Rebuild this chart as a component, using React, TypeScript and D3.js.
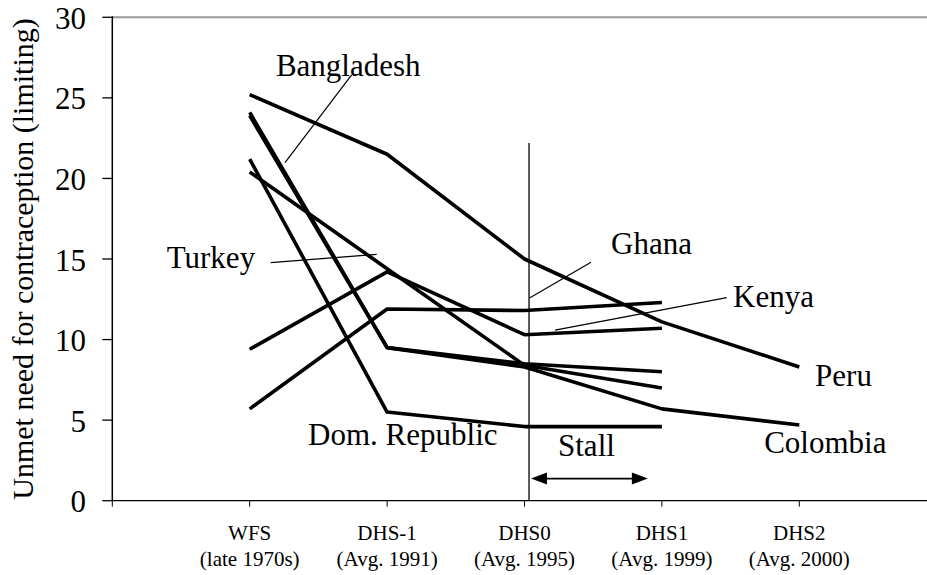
import React from "react";
import * as d3 from "d3";

// ---- Data ----
const categories = ["WFS", "DHS-1", "DHS0", "DHS1", "DHS2"];
const categorySubLabels = ["(late 1970s)", "(Avg. 1991)", "(Avg. 1995)", "(Avg. 1999)", "(Avg. 2000)"];
const yTicks = [0, 5, 10, 15, 20, 25, 30];

const peru = [25.2, 21.5, 15.0, 11.1, 8.3];
const bangladesh = [24.1, 9.5, 8.5, 8.0, null];
const colombia = [23.9, 9.5, 8.3, 5.7, 4.7];
const domRepublic = [21.2, 5.5, 4.6, 4.6, null];
const turkey = [20.4, 14.4, 8.4, 7.0, null];
const kenya = [9.4, 14.2, 10.3, 10.7, null];
const ghana = [5.7, 11.9, 11.8, 12.3, null];

const seriesList: (number | null)[][] = [peru, bangladesh, colombia, domRepublic, turkey, kenya, ghana];

// Annotation labels (position in data units: category index, value)
const labelNames = ["Bangladesh", "Turkey", "Ghana", "Kenya", "Peru", "Colombia", "Dom. Republic", "Stall"];
const labelIdx = [0.191, -0.604, 2.63, 3.518, 4.115, 3.744, 0.425, 2.244];
const labelVal = [26.36, 14.42, 15.31, 12.04, 7.12, 2.98, 3.46, 2.77];

// leader lines: [idx1, val1, idx2, val2]
const leaders = [
  [0.742, 26.42, 0.257, 20.98],
  [0.153, 14.77, 0.924, 15.29],
  [2.484, 14.8, 2.04, 12.6],
  [3.472, 12.6, 2.222, 10.59],
];

const W = 927;
const H = 575;
const left = 112.3;
const right = 936.7;
const top = 17.3;
const bottom = 500.7;
const FONT = "Liberation Serif, Times New Roman, Times, serif";
const tStyle = { fontFamily: FONT };

export default function App() {
  const x = d3.scalePoint<string>().domain(categories).range([left, right]).padding(1);
  const xIdx = d3.scaleLinear().domain([-1, 5]).range([left, right]);
  const y = d3.scaleLinear().domain([0, 30]).range([bottom, top]);

  const line = d3
    .line<number | null>()
    .defined((d) => d !== null)
    .x((_, i) => x(categories[i]) as number)
    .y((d) => y(d as number));

  const vX = xIdx(2.033);
  const arrowY = y(1.37);
  const ax1 = xIdx(2.047);
  const ax2 = xIdx(2.898);
  const hl = 16;
  const hw = 6;

  return (
    <svg
      width={W}
      height={H}
      style={{ position: "absolute", left: 0, top: 0, background: "#fff", fontFamily: FONT }}
    >
      <rect x={0} y={0} width={W} height={H} fill="#fff" />
      {/* top border */}
      <line x1={left} x2={W} y1={top} y2={top} stroke="#999" strokeWidth={2} />
      {/* y axis */}
      <line x1={left} x2={left} y1={top - 1} y2={bottom} stroke="#000" strokeWidth={1.5} />
      {yTicks.map((t) => (
        <g key={t}>
          <line x1={left - 10} x2={left} y1={y(t)} y2={y(t)} stroke="#000" strokeWidth={1.3} />
          <text x={86} y={y(t) + 11.5} textAnchor="end" fontSize={31} fill="#000" style={tStyle}>
            {t}
          </text>
        </g>
      ))}
      {/* x axis */}
      <line x1={left} x2={W} y1={bottom} y2={bottom} stroke="#000" strokeWidth={1.3} />
      {[left, ...categories.map((c) => x(c) as number)].map((px, i) => (
        <line key={i} x1={px} x2={px} y1={bottom} y2={bottom + 6} stroke="#000" strokeWidth={1} />
      ))}
      {categories.map((c, i) => (
        <g key={c}>
          <text x={x(c)} y={540} textAnchor="middle" fontSize={21} fill="#000" style={tStyle}>
            {c}
          </text>
          <text x={x(c)} y={566} textAnchor="middle" fontSize={21} fill="#000" style={tStyle}>
            {categorySubLabels[i]}
          </text>
        </g>
      ))}
      {/* y axis title */}
      <text
        transform={`translate(33, ${(top + bottom) / 2}) rotate(-90)`}
        textAnchor="middle"
        fontSize={30}
        fill="#000"
        style={tStyle}
      >
        Unmet need for contraception (limiting)
      </text>

      {/* vertical reference line */}
      <line x1={vX} x2={vX} y1={y(22.2)} y2={bottom} stroke="#000" strokeWidth={1.3} />

      {/* data lines */}
      {seriesList.map((s, i) => (
        <path
          key={i}
          d={line(s) || ""}
          fill="none"
          stroke="#000"
          strokeWidth={3.6}
          strokeLinejoin="round"
        />
      ))}

      {/* leader lines */}
      {leaders.map((l, i) => (
        <line
          key={i}
          x1={xIdx(l[0])}
          y1={y(l[1])}
          x2={xIdx(l[2])}
          y2={y(l[3])}
          stroke="#000"
          strokeWidth={1.2}
        />
      ))}

      {/* labels */}
      {labelNames.map((n, i) => (
        <text key={n} x={xIdx(labelIdx[i])} y={y(labelVal[i])} fontSize={31} fill="#000" style={tStyle}>
          {n}
        </text>
      ))}

      {/* stall arrow */}
      <line x1={ax1 + hl - 2} x2={ax2 - hl + 2} y1={arrowY} y2={arrowY} stroke="#000" strokeWidth={1.6} />
      <path d={`M${ax1},${arrowY} L${ax1 + hl},${arrowY - hw} L${ax1 + hl},${arrowY + hw} Z`} fill="#000" />
      <path d={`M${ax2},${arrowY} L${ax2 - hl},${arrowY - hw} L${ax2 - hl},${arrowY + hw} Z`} fill="#000" />
    </svg>
  );
}
